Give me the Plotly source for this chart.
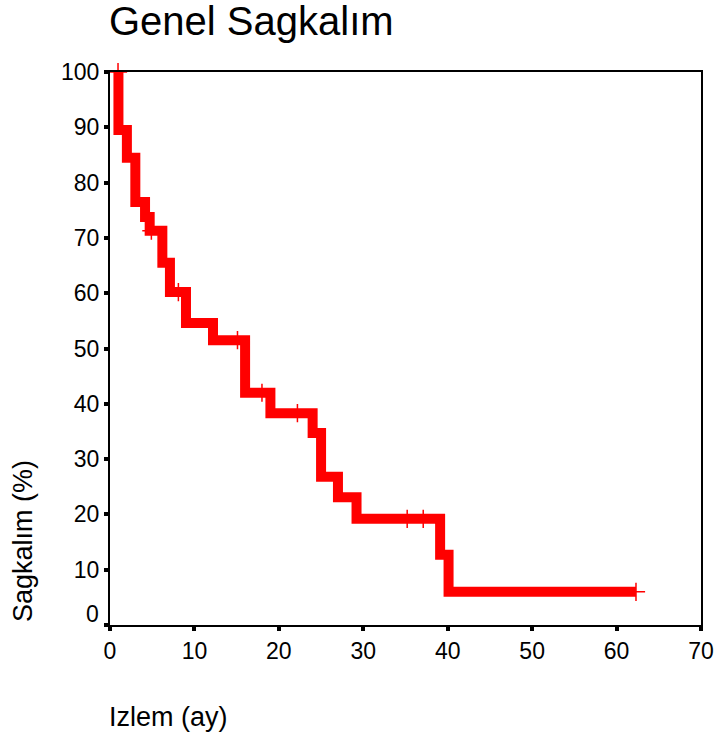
import numpy as np
import plotly.graph_objects as go

# Kaplan-Meier step curve (time in months, survival %)
times = [0.5, 1.0, 2.0, 3.0, 4.15, 4.7, 6.2, 7.1, 9.0, 12.2, 16.0, 19.0,
         24.0, 25.0, 27.0, 29.2, 39.1, 40.1, 62.3]
surv = [100, 89.5, 84.5, 76.5, 73.8, 71.3, 65.5, 60.2, 54.6, 51.5, 42.0, 38.3,
        34.7, 26.8, 23.1, 19.2, 12.7, 6.0, 6.0]
# censored observations (times)
censor_times = [0.95, 4.9, 8.1, 15.1, 18.0, 22.2, 35.2, 37.1, 62.3]

x_ticks = [0, 10, 20, 30, 40, 50, 60, 70]
y_ticks = [0, 10, 20, 30, 40, 50, 60, 70, 80, 90, 100]
y_ticktext = ["", "10", "20", "30", "40", "50", "60", "70", "80", "90", "100"]

title_text = "Genel Sagkalım"
x_title = "Izlem (ay)"
y_title = "Sagkalım (%)"

FONT = "Liberation Sans, Arial, Helvetica, sans-serif"
RED = "#ff0000"

t_arr = np.array(times)
s_arr = np.array(surv)
idx = np.searchsorted(t_arr, np.array(censor_times), side="right") - 1
censor_surv = s_arr[np.clip(idx, 0, len(s_arr) - 1)]

fig = go.Figure()
fig.add_trace(go.Scatter(
    x=times, y=surv, mode="lines", line=dict(color=RED, width=10, shape="hv"),
    showlegend=False, hoverinfo="skip"))
fig.add_trace(go.Scatter(
    x=censor_times, y=censor_surv, mode="markers",
    marker=dict(symbol="cross-thin", size=13, color=RED,
                line=dict(color=RED, width=1.5)),
    cliponaxis=False, showlegend=False))

axis_common = dict(showgrid=False, zeroline=False, showline=True, linecolor="black",
                   linewidth=2, mirror=True, ticks="outside", ticklen=4, tickwidth=4,
                   tickcolor="black", automargin=False, ticklabeloverflow="allow",
                   tickfont=dict(family=FONT, size=23, color="black"))

W, H = 714, 740
L, T = 110, 72
PW, PH = 591, 553

fig.update_layout(
    width=W, height=H,
    margin=dict(l=L, r=W - L - PW, t=T, b=H - T - PH, autoexpand=False),
    paper_bgcolor="white", plot_bgcolor="white",
    xaxis=dict(range=[0, 70], tickvals=x_ticks, ticktext=[str(v) for v in x_ticks],
               **axis_common),
    yaxis=dict(range=[0, 100], tickvals=y_ticks, ticktext=y_ticktext, **axis_common),
    annotations=[
        dict(text=title_text, xref="paper", yref="paper", x=0, xshift=-3,
             y=1 + (72 - 21) / PH, xanchor="left", yanchor="middle", showarrow=False,
             font=dict(family=FONT, size=40, color="black")),
        dict(text=x_title, xref="paper", yref="paper", x=0, xshift=-3,
             y=-(717 - 625) / PH, xanchor="left", yanchor="middle", showarrow=False,
             font=dict(family=FONT, size=27, color="black")),
        dict(text=y_title, xref="paper", yref="paper", x=-(110 - 23) / PW,
             y=(625 - 541) / PH, xanchor="center", yanchor="middle", textangle=-90,
             showarrow=False, font=dict(family=FONT, size=27, color="black")),
        dict(text=str(y_ticks[0]), xref="paper", yref="y", x=0, xshift=-9,
             y=y_ticks[0], yshift=11, xanchor="right", yanchor="middle", showarrow=False,
             font=dict(family=FONT, size=23, color="black")),
    ],
)

fig.write_html(
    "out.html",
    config={"displayModeBar": False},
    post_script="document.body.style.margin='0px';document.body.style.overflow='hidden';",
)
